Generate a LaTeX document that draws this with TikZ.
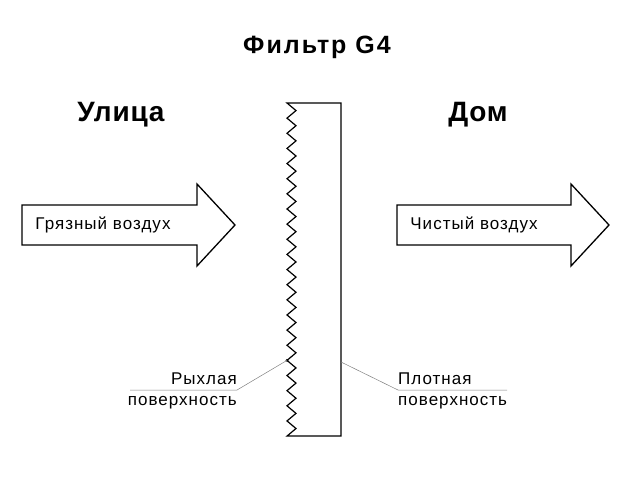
\documentclass[tikz,border=0pt]{standalone}
\usepackage{fontspec}
\setmainfont{Liberation Sans}
\newfontfamily\wide[LetterSpace=6]{Liberation Sans}
\newfontfamily\slight[LetterSpace=3]{Liberation Sans}
\usetikzlibrary{positioning}

\begin{document}
\begin{tikzpicture}[x=1pt, y=-1pt, >=stealth]
    \tikzstyle{heading} = [font=\bfseries\addfontfeatures{LetterSpace=8}\fontsize{25}{29}\selectfont]
    \tikzstyle{place} = [font=\bfseries\slight\fontsize{28}{32}\selectfont]
    \tikzstyle{note} = [font=\wide\fontsize{17}{20}\selectfont, inner sep=0pt]
    \tikzstyle{flow} = [draw, line width=1.3pt, fill=white]
    \tikzstyle{pointer} = [draw, gray, line width=0.5pt]

	\useasboundingbox (0,0) rectangle (630,477);

	% headings
	\node[heading] (title) at (317,47) {Фильтр G4};
	\node[place] (street) at (121,115) {Улица};
	\node[place] (home) at (478,115) {Дом};

	% air flows
	\draw[flow] (22,205) -- (197,205) -- (197,184) -- (235,225)
		-- (197,266) -- (197,245) -- (22,245) -- cycle;
	\draw[flow] (397,205) -- (571,205) -- (571,184) -- (609,225)
		-- (571,266) -- (571,245) -- (397,245) -- cycle;
	\node[note] (dirty) at (103,225) {Грязный воздух};
	\node[note] (clean) at (474,225) {Чистый воздух};

	% filter
	\draw[line width=1.2pt, line join=miter] (341,436) -- (341,103) -- (287,103)
		\foreach \k in {1,...,22} {
			-- (296,{103+(\k-0.5)*15.14}) -- (287,{103+\k*15.14})
		} -- cycle;

	% surfaces
	\coordinate (loose) at (287,{103+17*15.14});
	\coordinate (dense) at (341,362);
	\coordinate (lbend) at (237,390);
	\coordinate (lend) at (130,390);
	\coordinate (rbend) at (398,390);
	\coordinate (rend) at (507,390);
	\fill (loose) circle (1.6pt);

	\node[note, above left=5pt and 0pt of lbend] (loose_1) {Рыхлая};
	\node[note, below left=6pt and 0pt of lbend] (loose_2) {поверхность};
	\node[note, above right=5pt and 0pt of rbend] (dense_1) {Плотная};
	\node[note, below right=6pt and 0pt of rbend] (dense_2) {поверхность};

	\path[pointer]
		(loose) -- (lbend) -- (lend)
		(dense) -- (rbend) -- (rend);
\end{tikzpicture}
\end{document}
